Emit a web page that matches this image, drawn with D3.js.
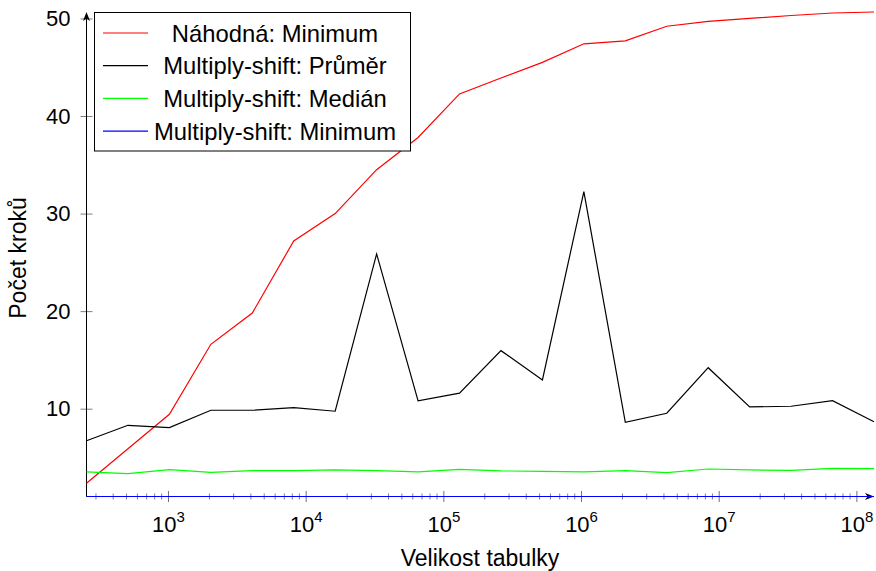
<!DOCTYPE html>
<html>
<head>
<meta charset="utf-8">
<script src="https://cdn.jsdelivr.net/npm/d3@7"></script>
<style>
  body { margin: 0; background: white; }
  svg { font-family: "Liberation Sans", Arial, sans-serif; }
</style>
</head>
<body>
<div id="chart"></div>
<script>
// Table sizes (x axis)
const sizes = [256, 512, 1024, 2048, 4096, 8192, 16384, 32768, 65536, 131072,
  262144, 524288, 1048576, 2097152, 4194304, 8388608, 16777216, 33554432, 67108864, 134217728];

// Series values
const nahodnaMin = [2.36, 5.9, 9.43, 16.6, 19.8, 27.2, 30.0, 34.5, 37.8, 42.26,
  43.9, 45.5, 47.4, 47.7, 49.2, 49.7, 50.0, 50.3, 50.56, 50.66];
const msPrumer = [6.72, 8.3, 8.06, 9.84, 9.84, 10.1, 9.74, 25.86, 10.8, 11.6,
  15.95, 12.95, 32.25, 8.6, 9.53, 14.2, 10.18, 10.25, 10.82, 8.67];
const msMedian = [3.52, 3.35, 3.75, 3.48, 3.65, 3.65, 3.72, 3.65, 3.52, 3.77,
  3.62, 3.58, 3.52, 3.65, 3.45, 3.82, 3.72, 3.68, 3.89, 3.86];
const msMinimum = [1, 1, 1, 1, 1, 1, 1, 1, 1, 1, 1, 1, 1, 1, 1, 1, 1, 1, 1, 1];

const seriesNames = ["Náhodná: Minimum", "Multiply-shift: Průměr", "Multiply-shift: Medián", "Multiply-shift: Minimum"];
const seriesColors = ["#ff0000", "#000000", "#00ff00", "#0000ff"];

// Tick labels
const xMajorTicks = [1e3, 1e4, 1e5, 1e6, 1e7, 1e8];
const xMajorExps = ["3", "4", "5", "6", "7", "8"];
const yTicks = [10, 20, 30, 40, 50];

const width = 876;
const height = 571;

const series = [nahodnaMin, msPrumer, msMedian, msMinimum];

// Scales
let x = d3.scaleLog()
  .domain([sizes[0], sizes[sizes.length - 1]])
  .range([86.5, 874]);
let y = d3.scaleLinear()
  .domain([1, d3.max(nahodnaMin)])
  .range([496.5, 12]);

let svg = d3.select("#chart")
  .append("svg")
  .attr("width", width)
  .attr("height", height);

// minor ticks 2..9 in each decade inside the domain
let minorTicks = [];
for (let e = 2; e <= 8; e++) {
  for (let m = 2; m <= 9; m++) {
    let v = m * Math.pow(10, e);
    if (v >= sizes[0] && v <= sizes[sizes.length - 1]) minorTicks.push(v);
  }
}

// X axis
let xAxis = d3.axisBottom(x).tickValues(xMajorTicks).tickFormat("").tickSize(0);
let gx = svg.append("g")
  .attr("transform", "translate(0," + y.range()[0] + ")")
  .call(xAxis);
gx.select(".domain").remove();

gx.selectAll(".minor")
  .data(minorTicks)
  .enter().append("line")
  .attr("x1", d => x(d)).attr("x2", d => x(d))
  .attr("y1", -3).attr("y2", 3)
  .attr("stroke", "#808080")
  .attr("stroke-width", 1);

gx.selectAll(".tick line")
  .attr("y1", -5.5).attr("y2", 5.5)
  .attr("stroke", "#707070")
  .attr("stroke-width", 1);

gx.selectAll(".tick").each(function(d, i) {
  let t = d3.select(this).append("text")
    .attr("y", 35)
    .attr("fill", "black")
    .attr("font-size", "22px")
    .attr("text-anchor", "middle");
  t.append("tspan").text("10");
  t.append("tspan").attr("dy", -10).attr("font-size", "15px").text(xMajorExps[i]);
});

// x axis line with arrow
svg.append("line")
  .attr("x1", x.range()[0]).attr("x2", 868)
  .attr("y1", y.range()[0]).attr("y2", y.range()[0])
  .attr("stroke", "black").attr("stroke-width", 1);
svg.append("path")
  .attr("d", "M874," + y.range()[0] + " l-9,-3.5 l2.5,3.5 l-2.5,3.5 z")
  .attr("fill", "black");

// Y axis
let yAxis = d3.axisLeft(y).tickValues(yTicks).tickSize(0).tickPadding(0);
let gy = svg.append("g")
  .attr("transform", "translate(" + x.range()[0] + ",0)")
  .call(yAxis);
gy.select(".domain").remove();
gy.selectAll(".tick line")
  .attr("x1", -6).attr("x2", 6)
  .attr("stroke", "#808080");
gy.selectAll(".tick text")
  .attr("x", -16)
  .attr("font-size", "22px")
  .attr("font-family", "Liberation Sans, Arial, sans-serif")
  .attr("fill", "black");

svg.append("line")
  .attr("x1", x.range()[0]).attr("x2", x.range()[0])
  .attr("y1", y.range()[0]).attr("y2", 18)
  .attr("stroke", "black").attr("stroke-width", 1);
svg.append("path")
  .attr("d", "M" + x.range()[0] + ",12 l-3.5,9 l3.5,-2.5 l3.5,2.5 z")
  .attr("fill", "black");

// Axis titles
svg.append("text")
  .attr("x", 480)
  .attr("y", 566)
  .attr("text-anchor", "middle")
  .attr("font-size", "23px")
  .text("Velikost tabulky");

svg.append("text")
  .attr("transform", "translate(26,258) rotate(-90)")
  .attr("text-anchor", "middle")
  .attr("font-size", "23px")
  .text("Počet kroků");

// Lines
let line = d3.line()
  .x((d, i) => x(sizes[i]))
  .y(d => y(d));

svg.selectAll(".series")
  .data(series)
  .enter().append("path")
  .attr("class", "series")
  .attr("d", d => line(d))
  .attr("fill", "none")
  .attr("stroke", (d, i) => seriesColors[i])
  .attr("stroke-width", 1.2);

// Legend
let legend = svg.append("g");
legend.append("rect")
  .attr("x", 94.5).attr("y", 12.5)
  .attr("width", 316).attr("height", 138.5)
  .attr("fill", "white")
  .attr("stroke", "black")
  .attr("stroke-width", 1);

seriesNames.forEach((name, i) => {
  let cy = 33 + i * 32.7;
  legend.append("line")
    .attr("x1", 103).attr("x2", 148)
    .attr("y1", cy).attr("y2", cy)
    .attr("stroke", seriesColors[i])
    .attr("stroke-width", 1.2);
  legend.append("text")
    .attr("x", 275)
    .attr("y", cy)
    .attr("dy", "0.36em")
    .attr("text-anchor", "middle")
    .attr("font-size", "23.8px")
    .text(name);
});
</script>
</body>
</html>
